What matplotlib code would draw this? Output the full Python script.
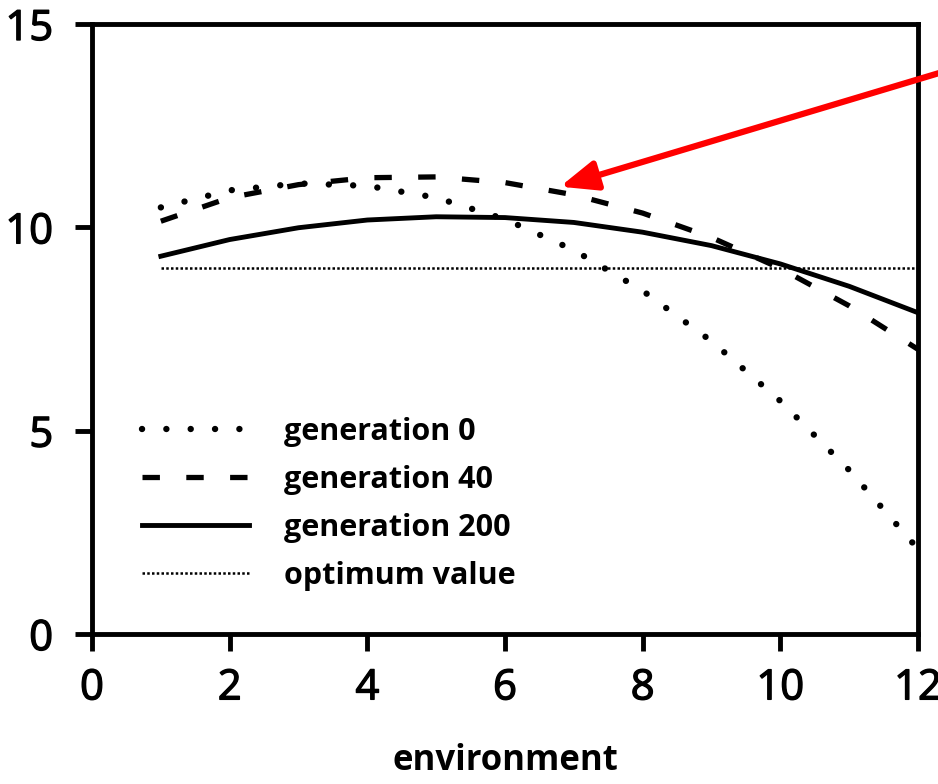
import matplotlib
matplotlib.use('Agg')
import matplotlib.pyplot as plt
import matplotlib.patheffects as pe

# Data
environment = [1, 2, 3, 4, 5, 6, 7, 8, 9, 10, 11, 12]
gen_0 = [10.49, 10.91, 11.08, 11.02, 10.73, 10.20, 9.44, 8.44, 7.20, 5.73, 4.03, 2.09]
gen_40 = [10.15, 10.73, 11.05, 11.22, 11.24, 11.10, 10.80, 10.35, 9.75, 8.99, 8.07, 7.00]
gen_200 = [9.29, 9.70, 9.99, 10.18, 10.26, 10.24, 10.12, 9.88, 9.55, 9.10, 8.55, 7.90]
optimum = [9.0] * len(environment)

labels = ['generation 0', 'generation 40', 'generation 200', 'optimum value']
x_ticks = [0, 2, 4, 6, 8, 10, 12]
y_ticks = [0, 5, 10, 15]

plt.rcParams['font.family'] = ['Open Sans', 'DejaVu Sans']

fig = plt.figure(figsize=(9.38, 7.84), dpi=100)
ax = fig.add_axes([0.0981, 0.1913, 0.8806, 0.7781])

ax.plot(environment, gen_0, color='black', lw=4.6, linestyle=(0, (0.01, 3.8)),
        dash_capstyle='round', label=labels[0])
ax.plot(environment, gen_40, color='black', lw=3.8, linestyle=(0, (3.3, 5.0)),
        dash_capstyle='butt', label=labels[1])
ax.plot(environment, gen_200, color='black', lw=3.5, label=labels[2])
ax.plot(environment, optimum, color='black', lw=1.8, linestyle=(0, (1.0, 0.9)),
        label=labels[3])

ax.set_xlim(0, 12)
ax.set_ylim(0, 15)
ax.set_xticks(x_ticks)
ax.set_yticks(y_ticks)

for side in ['left', 'right', 'top', 'bottom']:
    ax.spines[side].set_linewidth(3.5)
ax.tick_params(axis='both', direction='out', length=12, width=3.5, labelsize=30)
ax.tick_params(axis='y', pad=16)
ax.tick_params(axis='x', pad=12)
# the tick numbers are a little heavier than the regular face
for lbl in ax.get_xticklabels() + ax.get_yticklabels():
    lbl.set_path_effects([pe.withStroke(linewidth=1.0, foreground='black')])

ax.set_xlabel('environment', fontsize=25, fontweight='bold', labelpad=24)

leg = ax.legend(loc='center left', bbox_to_anchor=(0.06, 0.213), frameon=False,
                prop={'size': 22, 'weight': 'bold'}, handlelength=3.5,
                handletextpad=1.15, labelspacing=0.59, borderpad=0, borderaxespad=0)

# red arrow pointing at the generation 40 curve
ax.annotate('', xy=(6.8, 11.0), xycoords='data',
            xytext=(1.01, 0.91), textcoords='figure fraction',
            arrowprops=dict(arrowstyle='-|>,head_length=1.1,head_width=0.45',
                            mutation_scale=20, color='red', lw=4.5,
                            shrinkA=0, shrinkB=0),
            annotation_clip=False)

plt.savefig('out.png', dpi=100)
